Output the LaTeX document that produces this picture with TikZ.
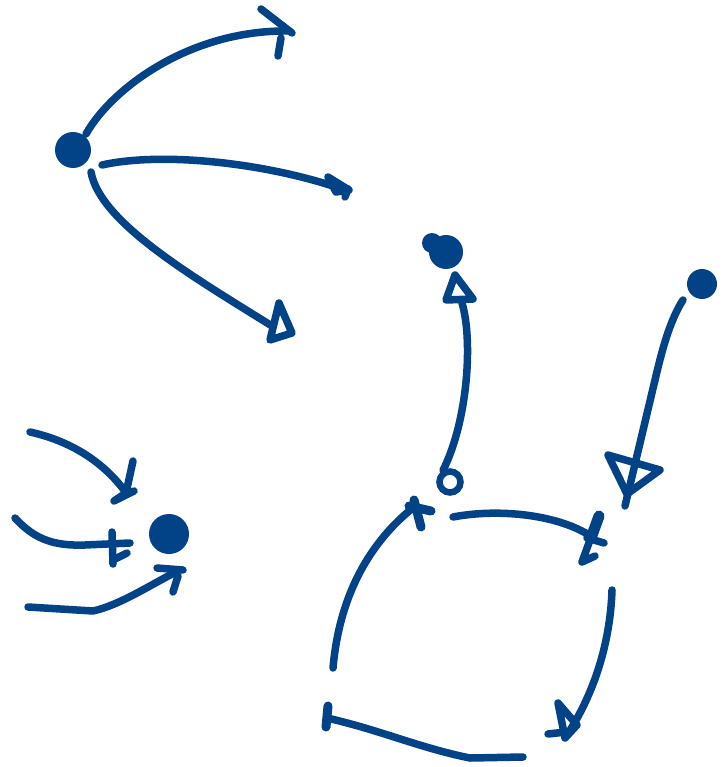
\documentclass[tikz,border=0pt]{standalone}
\definecolor{ink}{RGB}{2,66,135}
\begin{document}
\begin{tikzpicture}[x=1pt,y=-1pt,
  pen/.style={draw=ink,line width=7.5pt,line cap=round,line join=round},
  dot/.style={circle,fill=ink,inner sep=0pt}]
\useasboundingbox (0,0) rectangle (721,767);
% ---------- group 1 (fan out) ----------
\node[dot,minimum size=36pt] (g1) at (73,150) {};
\coordinate (g1as) at (86,134);
\coordinate (g1ae) at (288,31);
\coordinate (g1bs) at (102,165);
\coordinate (g1be) at (336,187);
\coordinate (g1cs) at (91,172);
\coordinate (g1ce) at (272,326);
\draw[pen] (g1as) .. controls (112,88) and (190,30) .. (g1ae);
\draw[pen] (261,9) -- (292,33);
\draw[pen] (281,38) -- (278,56);
\draw[pen] (g1bs) .. controls (160,152) and (260,162) .. (g1be);
\draw[pen,fill=ink] (328,177) -- (336,192) -- (349,190) -- cycle;
\draw[pen] (348,189) -- (345,197);
\draw[pen] (g1cs) .. controls (100,222) and (190,275) .. (g1ce);
\draw[pen] (279,303) -- (292,333) -- (270,340) -- cycle;
% ---------- group 2 (fan in) ----------
\node[dot,minimum size=40pt] (g2) at (169,534) {};
\coordinate (g2as) at (30,432);
\coordinate (g2ae) at (124,490);
\coordinate (g2bs) at (15,518);
\coordinate (g2be) at (130,543);
\coordinate (g2cs) at (28,607);
\coordinate (g2ce) at (176,572);
\draw[pen] (g2as) .. controls (75,442) and (105,465) .. (g2ae);
\draw[pen] (133,461) -- (126,493) -- (114,501) -- (134,491);
\draw[pen] (g2bs) .. controls (35,540) and (55,546) .. (85,545) -- (g2be);
\draw[pen] (112,532) -- (113,564);
\draw[pen] (113,560) -- (127,553);
\draw[pen] (g2cs) -- (93,611) .. controls (120,605) and (150,585) .. (g2ce);
\draw[pen] (157,568) -- (183,570);
\draw[pen] (178,576) -- (173,592);
% ---------- group 3 ----------
\node[dot,minimum size=34pt] (A) at (446,252) {};
\fill[ink] (432,243) circle (10pt);
\node[dot,minimum size=30pt] (B) at (702,284) {};
\node[circle,draw=ink,line width=6.5pt,minimum size=21pt,inner sep=0pt] (C) at (450,482) {};
\coordinate (Ae) at (462,303);
\draw[pen] (C.120) .. controls (468,420) and (473,340) .. (Ae);
\draw[pen] (455,275) -- (446,300) -- (473,299) -- cycle;
\coordinate (Bs) at (683,300);
\coordinate (Be) at (625,506);
\draw[pen] (Bs) .. controls (670,320) and (662,350) .. (655,380) -- (Be);
\draw[pen] (608,455) -- (660,470) -- (627,494) -- cycle;
% cycle
\coordinate (c1s) at (333,668);
\coordinate (c1e) at (414,507);
\coordinate (c2s) at (453,517);
\coordinate (c2e) at (592,537);
\coordinate (c3s) at (612,590);
\coordinate (c3e) at (567,735);
\coordinate (c4s) at (523,757);
\coordinate (c4e) at (327,718);
\draw[pen] (c1s) .. controls (338,610) and (360,550) .. (c1e);
\draw[pen,line width=9pt] (414,500) -- (421,527);
\draw[pen,line width=9pt] (409,506) -- (431,511);
\draw[pen] (c2s) .. controls (500,508) and (560,515) .. (c2e);
\draw[pen,line width=11pt] (599,516) -- (591,538);
\draw[pen] (587,538) -- (604,543);
\draw[pen] (590,540) -- (582,562) -- (595,556);
\draw[pen] (c3s) .. controls (610,650) and (590,700) .. (c3e);
\draw[pen] (558,703) -- (577,725) -- (565,738) -- cycle;
\draw[pen] (548,734) -- (566,732);
\draw[pen] (c4s) -- (470,758) .. controls (420,748) and (380,730) .. (c4e);
\draw[pen,line width=9pt] (328,706) -- (326,727);
\end{tikzpicture}
\end{document}
